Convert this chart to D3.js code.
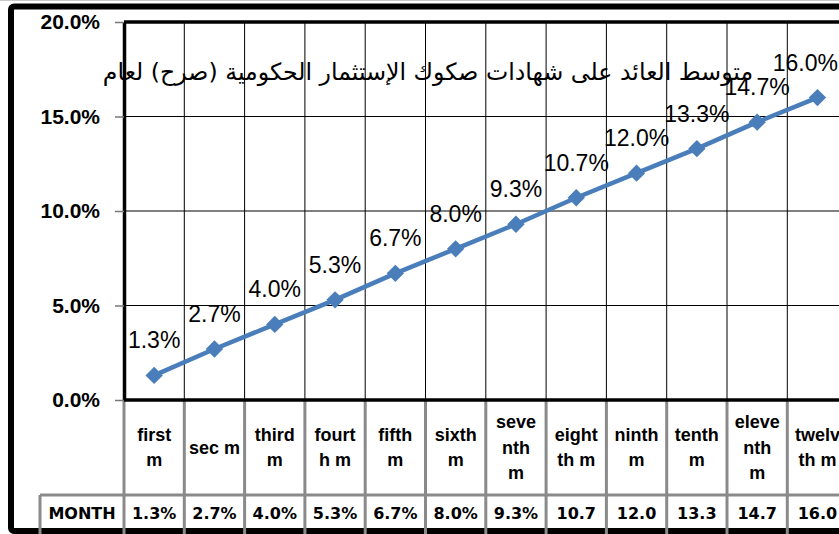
<!DOCTYPE html>
<html>
<head>
<meta charset="utf-8">
<script src="https://cdn.jsdelivr.net/npm/d3@7"></script>
<style>
  body { margin: 0; background: #fff; }
  svg { display: block; }
</style>
</head>
<body>
<svg id="chart" width="839" height="534"></svg>
<script>
// chart data
var categories = ["first\nm", "sec m", "third\nm", "fourt\nh m", "fifth\nm", "sixth\nm",
                  "seve\nnth\nm", "eight\nth m", "ninth\nm", "tenth\nm", "eleve\nnth\nm", "twelv\nth m"];
var values = [0.013, 0.027, 0.040, 0.053, 0.067, 0.080, 0.093, 0.107, 0.120, 0.133, 0.147, 0.160];
var yTicks = [0, 0.05, 0.10, 0.15, 0.20];
var seriesName = "MONTH";
var chartTitle = "متوسط العائد على شهادات صكوك الإستثمار الحكومية (صرح) لعام";

var svg = d3.select("#chart"),
    width = +svg.attr("width"),
    height = +svg.attr("height");

// plot box (top/bottom of plot, left edge, width of one category)
var plotLeft = 124, plotTop = 22, plotBottom = 400, band = 60.3;
var tableMid = 495, tableLeft = 40;

var x = d3.scaleBand()
    .domain(categories)
    .range([plotLeft, plotLeft + band * categories.length]);

var y = d3.scaleLinear()
    .domain([0, 0.2])
    .range([plotBottom, plotTop]);

var pct = d3.format(".1%");

// outer frame
svg.append("line")
    .attr("x1", 0).attr("x2", width).attr("y1", 0.5).attr("y2", 0.5)
    .attr("stroke", "#c8c8c8");
svg.append("rect")
    .attr("x", 11).attr("y", 6.5)
    .attr("width", width + 20).attr("height", height - 9.5)
    .attr("rx", 3)
    .attr("fill", "#fff")
    .attr("stroke", "#000")
    .attr("stroke-width", 6);

// horizontal gridlines
svg.append("g")
  .selectAll("line")
  .data(yTicks.slice(1, -1))
  .enter().append("line")
    .attr("x1", plotLeft).attr("x2", width)
    .attr("y1", function(d) { return y(d); })
    .attr("y2", function(d) { return y(d); })
    .attr("stroke", "#000")
    .attr("stroke-width", 1);

// vertical gridlines at the category boundaries
svg.append("g")
  .selectAll("line")
  .data(categories.slice(1))
  .enter().append("line")
    .attr("x1", function(d) { return x(d); })
    .attr("x2", function(d) { return x(d); })
    .attr("y1", plotTop).attr("y2", plotBottom)
    .attr("stroke", "#000")
    .attr("stroke-width", 1);

// data table lines (grey)
var grid = svg.append("g")
    .attr("stroke", "#8a8a8a")
    .attr("stroke-width", 3);
grid.selectAll("line.v")
    .data(categories)
  .enter().append("line")
    .attr("class", "v")
    .attr("x1", function(d) { return x(d); })
    .attr("x2", function(d) { return x(d); })
    .attr("y1", plotBottom).attr("y2", height);
grid.append("line")
    .attr("x1", tableLeft).attr("x2", width)
    .attr("y1", tableMid).attr("y2", tableMid);
grid.append("line")
    .attr("x1", tableLeft).attr("x2", tableLeft)
    .attr("y1", tableMid).attr("y2", height);

// plot frame top + x axis line
svg.append("line")
    .attr("x1", plotLeft).attr("x2", width).attr("y1", plotTop).attr("y2", plotTop)
    .attr("stroke", "#000").attr("stroke-width", 3.5);
svg.append("line")
    .attr("x1", plotLeft).attr("x2", width).attr("y1", plotBottom).attr("y2", plotBottom)
    .attr("stroke", "#000").attr("stroke-width", 3.5);

// y axis
var yAxis = svg.append("g")
    .attr("transform", "translate(" + plotLeft + ",0)")
    .call(d3.axisLeft(y).tickValues(yTicks).tickFormat(pct).tickSize(9).tickPadding(15).tickSizeOuter(0));
yAxis.select(".domain")
    .attr("stroke", "#000")
    .attr("stroke-width", 3.5);
yAxis.selectAll(".tick line").attr("stroke", "#777").attr("stroke-width", 1.5);
yAxis.selectAll(".tick text")
    .attr("fill", "#000")
    .style("font-family", "'Liberation Sans', Arial, sans-serif")
    .style("font-weight", "bold")
    .style("font-size", "21px");

// title
var titleText = svg.append("text")
    .attr("x", 428)
    .attr("y", 80)
    .attr("text-anchor", "middle")
    .attr("direction", "rtl")
    .style("font-family", "'DejaVu Sans', sans-serif")
    .style("font-size", "24px")
    .text(chartTitle);
var tw = titleText.node().getComputedTextLength();
titleText.style("font-size", (24 * 651 / tw) + "px");

// series line + markers
var line = d3.line()
    .x(function(d, i) { return x(categories[i]) + x.bandwidth() / 2; })
    .y(function(d) { return y(d); });

svg.append("path")
    .datum(values)
    .attr("d", line)
    .attr("fill", "none")
    .attr("stroke", "#4a7ebb")
    .attr("stroke-width", 4.5)
    .attr("stroke-linejoin", "round");

svg.append("g")
  .selectAll("path")
  .data(values)
  .enter().append("path")
    .attr("d", d3.symbol(d3.symbolSquare, 150))
    .attr("transform", function(d, i) {
      return "translate(" + (x(categories[i]) + x.bandwidth() / 2) + "," + y(d) + ") rotate(45)";
    })
    .attr("fill", "#4a7ebb");

// data labels
svg.append("g")
  .selectAll("text")
  .data(values)
  .enter().append("text")
    .attr("x", function(d, i) { return x(categories[i]) + x.bandwidth() / 2; })
    .attr("y", function(d) { return y(d) - 27; })
    .attr("text-anchor", "middle")
    .style("font-family", "'Liberation Sans', Arial, sans-serif")
    .style("font-size", "23px")
    .text(function(d) { return pct(d); })
    .each(function() {
      // keep labels inside the window, like the spreadsheet does
      var b = this.getBBox();
      if (b.x + b.width > width - 1) {
        d3.select(this).attr("x", +d3.select(this).attr("x") - (b.x + b.width - width + 1));
      }
    });

// table header: category names
var head = svg.append("g")
    .style("font-family", "'Liberation Sans', Arial, sans-serif")
    .style("font-weight", "bold")
    .style("font-size", "18px")
    .attr("text-anchor", "middle");
head.selectAll("text")
    .data(categories)
  .enter().append("text")
    .each(function(d) {
      var lines = d.split("\n"),
          lh = 25.5,
          y0 = 447.5 - (lines.length - 1) * lh / 2 + 6;
      d3.select(this).selectAll("tspan")
          .data(lines)
        .enter().append("tspan")
          .attr("x", x(d) + x.bandwidth() / 2)
          .attr("y", function(l, j) { return y0 + j * lh; })
          .text(function(l) { return l; });
    });

// table row: series values
var row = svg.append("g")
    .style("font-family", "'DejaVu Sans', sans-serif")
    .style("font-weight", "bold")
    .style("font-size", "16px");
row.append("text")
    .attr("x", tableLeft + (plotLeft - tableLeft) / 2)
    .attr("y", 519)
    .attr("text-anchor", "middle")
    .text(seriesName);
row.selectAll("text.val")
    .data(values)
  .enter().append("text")
    .attr("class", "val")
    .attr("x", function(d, i) { return x(categories[i]) + x.bandwidth() / 2; })
    .attr("y", 519)
    .attr("text-anchor", "middle")
    .text(function(d) { return pct(d); })
    .each(function() {
      // cell too narrow: the percent sign gets cut off
      if (this.getComputedTextLength() > x.bandwidth() - 8) {
        d3.select(this).text(d3.select(this).text().replace("%", ""));
      }
    });
</script>
</body>
</html>
